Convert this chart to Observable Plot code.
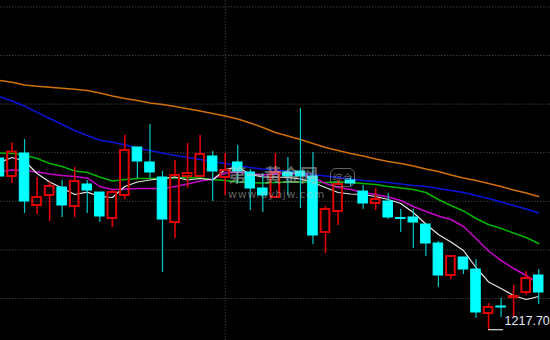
<!DOCTYPE html>
<html>
<head>
<meta charset="utf-8">
<script src="https://cdn.jsdelivr.net/npm/d3@7"></script>
<script src="https://cdn.jsdelivr.net/npm/@observablehq/plot@0.6"></script>
<style>
  html, body { margin: 0; padding: 0; background: #000; }
  #wrap { position: relative; width: 550px; height: 340px; overflow: hidden; background: #000; }
  .wm { position: absolute; color: rgba(195,195,195,0.5); white-space: nowrap; pointer-events: none; }
</style>
</head>
<body>
<div id="wrap"></div>
<script>
// Candles (first one is partly off the left edge)
const open  = [1260.5, 1256.0, 1261.75, 1248.75, 1251.25, 1253.25, 1248.5, 1254, 1252, 1245.5, 1251.25, 1263.25, 1259.5, 1255.75, 1244.5, 1256, 1256, 1261, 1255.75, 1259.5, 1257, 1253, 1250.75, 1257, 1257.25, 1256, 1242, 1247.25, 1255, 1252.25, 1249.25, 1249.75, 1245.6, 1245.75, 1244, 1239.25, 1231.25, 1235.75, 1232.75, 1221.75, 1223.5, 1225.75, 1227, 1231.25];
const high  = [1260.5, 1264.4, 1265.25, 1255.75, 1254.5, 1255, 1258.25, 1255, 1252, 1252.5, 1266.25, 1263.25, 1269, 1257.25, 1260, 1264.25, 1266.25, 1262.25, 1261.75, 1263.75, 1257.75, 1256.75, 1261.75, 1260.75, 1273, 1262, 1248.5, 1255, 1255.75, 1253.75, 1253, 1251.75, 1247.75, 1247.75, 1244, 1239.75, 1236, 1235.75, 1235.25, 1224.25, 1225.5, 1228.75, 1232.25, 1232.75];
const low   = [1255.75, 1254.25, 1246.75, 1246.5, 1244.75, 1245.75, 1245.75, 1246.75, 1244.5, 1243.25, 1250.25, 1255.5, 1255.5, 1232, 1240.5, 1253, 1255.75, 1249.75, 1251.25, 1254.25, 1247.5, 1247, 1250.75, 1251.25, 1248, 1239, 1236.75, 1243.75, 1253.5, 1247.75, 1247.5, 1245.25, 1242, 1238, 1236, 1228.25, 1230.25, 1231.5, 1220.5, 1217.7, 1220.75, 1220.75, 1226.25, 1224];
const close = [1256, 1262.1, 1249.75, 1250.75, 1253.5, 1248.75, 1254.75, 1252.5, 1246, 1252, 1262.5, 1259.75, 1257, 1245.25, 1256.25, 1256.75, 1261.5, 1257.25, 1257.5, 1257.25, 1253, 1251.25, 1257, 1256, 1256, 1241.25, 1247.75, 1254, 1254.25, 1249.25, 1250.25, 1245.75, 1245.4, 1244.5, 1239.25, 1231.25, 1236, 1232.75, 1222, 1223.25, 1223.25, 1226, 1230.5, 1227];

// Moving averages, one value per candle
const maWhite   = [1259.5, 1260.75, 1259.88, 1256.75, 1254.63, 1253.13, 1251.5, 1252.08, 1251, 1250.75, 1253.5, 1254.63, 1255.13, 1255.5, 1255.88, 1255.13, 1255.5, 1255.13, 1257.75, 1258.38, 1256.5, 1255.88, 1255.88, 1255.75, 1255.38, 1254.5, 1253.25, 1252, 1251.63, 1251.5, 1251, 1250.25, 1249.25, 1247, 1244.13, 1241.5, 1239.63, 1237.5, 1233.25, 1229.63, 1228, 1226.25, 1225.25, 1226];
const maMagenta = [1257.25, 1257.63, 1257.5, 1257.13, 1256.63, 1256.25, 1256, 1255.63, 1253.5, 1252.75, 1252.88, 1253, 1253, 1253, 1253.5, 1254.13, 1254.88, 1255.38, 1256.88, 1257.13, 1256.75, 1256.38, 1256.63, 1256.75, 1256.5, 1255.75, 1254.25, 1253.25, 1252.75, 1252, 1251.5, 1250.88, 1250, 1248.5, 1247.25, 1246.13, 1245.25, 1243.5, 1240.5, 1237.38, 1235, 1233, 1231.25, 1229.25];
const maGreen   = [1261.88, 1261.75, 1261.38, 1260.5, 1259.25, 1258.5, 1257.38, 1257, 1255.88, 1254.88, 1255.25, 1255.5, 1255.5, 1255.5, 1255.63, 1255.75, 1255.63, 1255.25, 1255, 1254.63, 1254.5, 1254.38, 1254.5, 1254.63, 1254.63, 1254.5, 1254.5, 1254.63, 1254.5, 1254.25, 1254, 1253.5, 1253.13, 1252.75, 1252, 1250.25, 1248.75, 1247.38, 1245.5, 1244, 1243, 1241.88, 1240.75, 1239.25];
const maBlue    = [1276, 1274.88, 1273.63, 1272.05, 1270.5, 1269, 1267.5, 1266.25, 1265.08, 1264.55, 1263.93, 1263.13, 1262.5, 1261.88, 1261.25, 1260.75, 1260.25, 1259.75, 1259.25, 1258.75, 1258.25, 1257.88, 1257.63, 1257.25, 1256.88, 1256.5, 1256.13, 1255.75, 1255.38, 1255, 1254.75, 1254.5, 1254.13, 1253.75, 1253.5, 1253, 1252.5, 1252, 1251.25, 1250.5, 1249.63, 1248.75, 1247.88, 1246.88];
const maOrange  = [1280, 1279.58, 1278.85, 1278.58, 1278.33, 1278.05, 1277.8, 1277.5, 1276.88, 1276.13, 1275.5, 1275, 1274.38, 1274, 1273.5, 1272.93, 1272.38, 1271.75, 1271.13, 1270.38, 1269.38, 1268.25, 1267, 1266.13, 1265.25, 1264.25, 1263.25, 1262.5, 1261.75, 1261.13, 1260.38, 1259.75, 1259.25, 1258.63, 1257.88, 1257.25, 1256.38, 1255.63, 1255, 1254.25, 1253.5, 1252.63, 1251.88, 1251];

// Dotted grid levels and the session separator
const gridLevels = [1225.5, 1237.65, 1249.8, 1261.95, 1274.1, 1286.25, 1298.4];
const separatorAt = [17];

const idx = d3.range(-1, open.length - 1);
const candles = open.map((o, j) => ({i: idx[j], o, h: high[j], l: low[j], c: close[j], up: close[j] > o}));
const ups = candles.filter(d => d.up);
const downs = candles.filter(d => !d.up);
const maLine = (arr) => arr.map((v, j) => ({i: idx[j], v}));
const lowest = candles.reduce((a, b) => (b.l < a.l ? b : a));
const label = [{i: lowest.i, v: lowest.l}];

const RED = "#e00000", CYAN = "#00ffff";
const grid = {stroke: "#3a3a3a", strokeDasharray: "1.5,1.5", strokeWidth: 1};

const chart = Plot.plot({
  width: 550, height: 340,
  marginTop: 0, marginRight: 0, marginBottom: 0, marginLeft: 0,
  style: "background:#000; overflow:hidden; display:block;",
  x: {domain: [-0.917, 42.94], axis: null},
  y: {domain: [1215, 1300], axis: null},
  marks: [
    Plot.ruleY(gridLevels, grid),
    Plot.ruleX(separatorAt, grid),
    Plot.line(maLine(maOrange),  {x: "i", y: "v", stroke: "#d0700a", strokeWidth: 1.5}),
    Plot.line(maLine(maBlue),    {x: "i", y: "v", stroke: "#0a14d8", strokeWidth: 1.5}),
    Plot.line(maLine(maGreen),   {x: "i", y: "v", stroke: "#00b400", strokeWidth: 1.5}),
    Plot.line(maLine(maMagenta), {x: "i", y: "v", stroke: "#c800c8", strokeWidth: 1.5}),
    Plot.line(maLine(maWhite),   {x: "i", y: "v", stroke: "#e8e8e8", strokeWidth: 1.2}),
    // down candles: filled cyan
    Plot.ruleX(downs, {x: "i", y1: "h", y2: "l", stroke: "#00c8c8", strokeWidth: 1.2}),
    Plot.rect(downs, {x1: d => d.i - 0.38, x2: d => d.i + 0.38, y1: "o", y2: "c", fill: CYAN, stroke: CYAN, strokeWidth: 1}),
    // up candles: hollow red
    Plot.ruleX(ups, {x: "i", y1: "h", y2: d => Math.max(d.o, d.c), stroke: RED, strokeWidth: 1.6}),
    Plot.ruleX(ups, {x: "i", y1: d => Math.min(d.o, d.c), y2: "l", stroke: RED, strokeWidth: 1.6}),
    Plot.rect(ups, {x1: d => d.i - 0.345, x2: d => d.i + 0.345, y1: "o", y2: "c", fill: "none", stroke: RED, strokeWidth: 2}),
    // lowest-low annotation
    Plot.ruleY(label, {y: "v", x1: "i", x2: d => d.i + 1.2, stroke: "#d8d8d8", strokeWidth: 1.2}),
    Plot.text(label, {x: d => d.i + 1.2, y: "v", text: d => d.v.toFixed(2), textAnchor: "start", dx: 1, dy: -9,
      fill: "#e2eaf6", fontSize: 12.5, fontFamily: "Liberation Sans, Arial, sans-serif"})
  ]
});

const wrap = document.getElementById("wrap");
wrap.appendChild(chart);

// faint site watermark
const wm1 = document.createElement("div");
wm1.className = "wm";
wm1.textContent = "第一黄金网";
wm1.style.cssText += "left:228px;top:165px;font-size:18px;line-height:18px;font-family:'Noto Sans CJK SC';font-weight:bold;";
wrap.appendChild(wm1);
const wm2 = document.createElement("div");
wm2.className = "wm";
wm2.textContent = "综合";
wm2.style.cssText += "left:330px;top:168px;width:23px;height:17px;border:1px solid rgba(195,195,195,0.5);border-radius:6px;font-size:10px;line-height:17px;text-align:center;font-family:'Noto Sans CJK SC';";
wrap.appendChild(wm2);
const wm3 = document.createElement("div");
wm3.className = "wm";
wm3.textContent = "www.dyhjw.com";
wm3.style.cssText += "left:228px;top:189px;font-size:11px;line-height:11px;letter-spacing:0.7px;font-family:'DejaVu Sans';";
wrap.appendChild(wm3);
</script>
</body>
</html>
